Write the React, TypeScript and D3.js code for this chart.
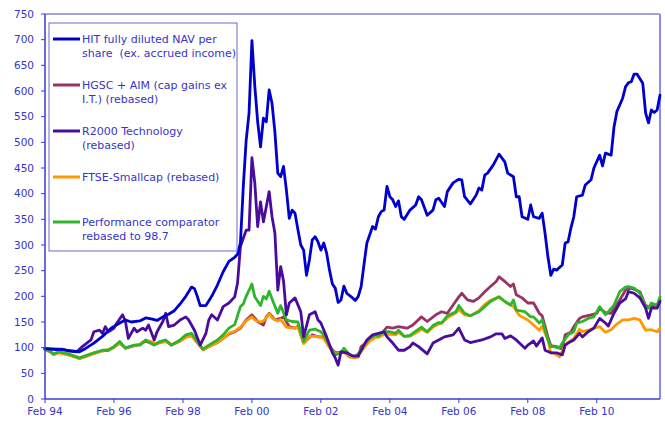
import React from "react";
import * as d3 from "d3";

// Months since Feb 1994 paired with values
const hitNav: [number, number][] = [
  [0,98],[2,97],[4,96],[6,97],[8,94],[10,93],[12,92],[14,98],[17,109],[20,122],[23,138],[26,148],[28,154],[30,150],[33,152],[35,158],[37,156],[39,153],[41,160],[43,165],[45,172],[47,185],[49,200],[51,218],[52,215],[53,200],[54,182],[56,182],[58,200],[60,222],[62,248],[64,268],[66,276],[67,282],[68,304],[69,414],[70,504],[71,557],[72,698],[73,610],[74,540],[75,491],[76,547],[77,540],[78,602],[79,576],[80,520],[81,440],[82,433],[83,453],[84,407],[85,352],[86,368],[87,362],[88,330],[89,300],[90,290],[91,241],[92,271],[93,310],[94,316],[95,306],[96,290],[97,304],[98,284],[99,251],[100,224],[101,216],[102,188],[103,193],[104,220],[105,206],[107,197],[108,192],[109,200],[110,219],[111,262],[112,304],[113,320],[114,336],[115,331],[116,355],[117,365],[118,368],[119,414],[120,394],[121,388],[122,375],[123,386],[124,355],[125,350],[127,368],[129,378],[130,394],[131,388],[133,358],[135,368],[136,388],[137,391],[139,375],[140,404],[142,421],[144,428],[145,427],[146,394],[148,380],[150,397],[151,411],[152,407],[153,436],[154,440],[156,456],[158,477],[160,462],[161,440],[163,433],[164,394],[165,394],[166,355],[168,350],[169,378],[170,355],[172,352],[173,362],[174,323],[175,277],[176,241],[177,253],[178,251],[180,261],[181,304],[182,306],[183,333],[184,355],[185,394],[187,397],[188,417],[190,427],[191,450],[193,475],[194,454],[195,479],[197,475],[198,530],[199,560],[201,586],[202,608],[203,616],[204,618],[205,633],[206,633],[208,615],[209,557],[210,538],[211,563],[212,558],[213,563],[214,592]
];

const hgscAim: [number, number][] = [
  [0,97],[2,91],[3,87],[5,91],[8,87],[10,83],[12,79],[15,85],[17,89],[20,94],[22,95],[24,101],[26,110],[28,99],[31,104],[33,106],[35,113],[38,106],[40,110],[42,113],[44,105],[47,113],[49,121],[51,124],[53,110],[55,96],[57,102],[60,110],[62,118],[64,127],[66,131],[68,138],[70,154],[72,164],[74,151],[76,144],[77,160],[78,167],[80,154],[82,157],[83,160],[85,141],[87,138],[88,142],[90,109],[93,125],[95,121],[97,121],[99,102],[101,90],[104,92],[106,82],[109,82],[110,102],[113,115],[115,125],[117,127],[119,140],[121,138],[123,141],[126,138],[128,144],[131,160],[133,151],[136,164],[138,170],[140,167],[142,183],[144,199],[145,206],[147,193],[149,190],[151,197],[153,209],[155,219],[157,229],[158,238],[160,229],[162,219],[163,224],[164,203],[166,197],[168,187],[170,187],[172,167],[173,162],[175,121],[176,104],[178,102],[180,97],[181,125],[183,130],[184,141],[186,157],[187,160],[190,164],[192,167],[193,177],[195,168],[197,167],[200,193],[202,212],[204,216],[207,209],[209,182],[210,180],[213,183],[214,193]
];

const r2000Tech: [number, number][] = [
  [0,98],[5,97],[11,92],[13,102],[16,115],[17,131],[19,134],[20,128],[21,141],[22,131],[23,134],[24,138],[25,148],[27,164],[28,151],[29,118],[31,138],[32,131],[34,138],[35,134],[36,144],[38,115],[39,131],[41,151],[42,167],[43,141],[45,144],[47,154],[49,160],[50,154],[52,134],[54,105],[56,128],[57,154],[58,164],[60,154],[62,180],[64,187],[66,199],[67,226],[68,297],[70,329],[71,329],[72,470],[73,421],[74,336],[75,384],[76,345],[78,404],[79,355],[80,323],[81,212],[82,258],[83,230],[84,164],[85,187],[87,197],[89,170],[90,121],[92,164],[94,170],[95,154],[96,148],[98,121],[100,90],[101,80],[102,66],[103,92],[105,90],[107,84],[109,84],[111,105],[112,115],[114,125],[116,128],[118,131],[119,121],[121,109],[123,95],[125,95],[127,102],[128,109],[130,102],[133,88],[135,109],[137,115],[139,121],[142,125],[144,138],[146,115],[148,110],[152,115],[155,121],[157,127],[159,127],[160,118],[162,123],[164,115],[167,99],[168,105],[170,113],[171,103],[173,119],[174,95],[176,90],[178,90],[180,86],[181,105],[182,109],[184,115],[186,128],[187,121],[189,131],[191,138],[193,157],[195,148],[196,142],[198,167],[200,187],[202,195],[203,209],[205,206],[207,197],[209,177],[210,157],[211,177],[213,177],[214,190]
];

const ftseSmallcap: [number, number][] = [
  [0,96],[2,91],[3,87],[5,90],[8,86],[10,83],[12,79],[15,84],[17,89],[20,94],[22,96],[24,101],[26,108],[28,100],[31,104],[33,107],[35,114],[37,112],[38,108],[40,110],[42,112],[44,106],[47,113],[49,120],[51,123],[53,110],[55,96],[57,102],[60,110],[62,118],[64,128],[66,132],[68,140],[70,152],[72,160],[73,154],[75,150],[76,152],[77,158],[78,166],[79,158],[81,152],[82,155],[84,140],[86,138],[88,140],[90,108],[92,122],[94,122],[96,120],[97,118],[99,100],[101,88],[103,90],[104,92],[106,82],[108,80],[110,92],[111,100],[113,113],[115,120],[116,120],[118,126],[120,126],[122,125],[123,130],[125,122],[127,122],[130,132],[131,136],[133,130],[135,140],[137,146],[138,148],[140,158],[143,168],[144,174],[146,164],[148,162],[151,172],[153,184],[155,192],[158,199],[160,190],[162,183],[163,180],[165,163],[166,160],[168,154],[170,144],[172,134],[173,142],[175,115],[176,90],[177,90],[179,82],[181,105],[182,110],[184,118],[186,136],[187,131],[189,134],[191,138],[193,141],[195,130],[197,135],[199,146],[201,154],[203,154],[205,157],[207,154],[209,134],[211,135],[213,131],[214,138]
];

const perfComparator: [number, number][] = [
  [0,97],[2,92],[3,88],[5,92],[8,88],[10,84],[12,80],[15,86],[17,90],[20,95],[22,95],[24,102],[26,112],[28,99],[31,105],[33,105],[35,115],[38,105],[40,112],[42,115],[44,105],[47,115],[49,125],[51,128],[53,112],[55,97],[57,105],[60,115],[62,125],[64,138],[66,145],[68,180],[69,185],[70,200],[72,224],[73,199],[75,182],[76,200],[77,195],[78,210],[79,195],[81,167],[82,182],[84,154],[86,151],[88,150],[90,112],[92,134],[94,136],[96,131],[97,125],[99,105],[101,86],[103,90],[104,99],[106,86],[108,82],[110,95],[111,105],[113,118],[115,125],[116,123],[118,131],[120,131],[122,128],[123,134],[125,122],[127,124],[130,136],[131,140],[133,131],[135,143],[137,149],[138,148],[140,162],[143,170],[144,182],[146,167],[148,162],[151,170],[153,180],[155,190],[158,199],[160,190],[162,183],[163,193],[164,173],[167,170],[169,160],[170,160],[172,148],[173,154],[175,115],[176,102],[177,102],[179,99],[180,109],[182,125],[184,131],[185,148],[187,151],[189,157],[191,160],[193,180],[195,164],[196,170],[198,183],[200,209],[202,218],[203,219],[205,216],[207,206],[209,180],[210,177],[211,187],[213,183],[214,199]
];

const yTicks = [0, 50, 100, 150, 200, 250, 300, 350, 400, 450, 500, 550, 600, 650, 700, 750];
const xTickMonths = [0, 24, 48, 72, 96, 120, 144, 168, 192];
const xTickLabels = ["Feb 94", "Feb 96", "Feb 98", "Feb 00", "Feb 02", "Feb 04", "Feb 06", "Feb 08", "Feb 10"];

const seriesNames = [
  ["HIT fully diluted NAV per", "share  (ex. accrued income)"],
  ["HGSC + AIM (cap gains ex", "I.T.) (rebased)"],
  ["R2000 Technology", "(rebased)"],
  ["FTSE-Smallcap (rebased)"],
  ["Performance comparator", "rebased to 98.7"],
];
const seriesColors = ["#0000cc", "#993366", "#4a0c9c", "#ff9900", "#2fb52a"];

export default function App() {
  const W = 665, H = 425;
  const left = 45, right = 660, top = 14, bottom = 399;
  const x = d3.scaleLinear().domain([0, 214]).range([left, right]);
  const y = d3.scaleLinear().domain([0, 750]).range([bottom, top]);
  const line = d3.line<[number, number]>().x(d => x(d[0])).y(d => y(d[1]));
  const data = [hitNav, hgscAim, r2000Tech, ftseSmallcap, perfComparator];
  const drawOrder = [1, 3, 4, 2, 0];
  const textColor = "#3535c8";
  const font = "'DejaVu Sans', Verdana, sans-serif";
  const legendY = [39, 85, 131, 177, 222];

  return (
    <svg width={W} height={H} style={{ position: "fixed", left: 0, top: 0, background: "#fff" }} fontFamily={font}>
      <rect x={0} y={0} width={W} height={H} fill="#fff" />
      {/* plot border */}
      <line x1={left} y1={top} x2={right} y2={top} stroke="#4a4ac8" strokeWidth={1} />
      <line x1={right} y1={top} x2={right} y2={bottom} stroke="#8a8aea" strokeWidth={2} />
      {/* series */}
      {drawOrder.map(i => (
        <path key={i} d={line(data[i]) || ""} fill="none" stroke={seriesColors[i]} strokeWidth={2.8} strokeLinejoin="round" strokeLinecap="round" />
      ))}
      {/* axes */}
      <line x1={left} y1={top} x2={left} y2={bottom} stroke="#3a3acc" strokeWidth={1.5} />
      <line x1={left} y1={bottom} x2={right} y2={bottom} stroke="#3a3acc" strokeWidth={1.5} />
      {yTicks.map(t => (
        <g key={t}>
          <line x1={left - 4} x2={left} y1={y(t)} y2={y(t)} stroke="#3a3acc" strokeWidth={1} />
          <text x={34} y={y(t)} dy="0.36em" textAnchor="end" fontSize={10.5} fill={textColor}>{t}</text>
        </g>
      ))}
      {xTickMonths.map((m, i) => (
        <g key={m}>
          <line x1={x(m)} x2={x(m)} y1={bottom} y2={bottom + 4} stroke="#3a3acc" strokeWidth={1} />
          <text x={x(m)} y={414.5} textAnchor="middle" fontSize={10.5} fill={textColor}>{xTickLabels[i]}</text>
        </g>
      ))}
      {/* legend */}
      <rect x={49} y={23} width={188} height={228} fill="#fff" stroke="#6a6ad4" strokeWidth={1} />
      {seriesNames.map((lines, i) => (
        <g key={i}>
          <line x1={53} x2={80} y1={legendY[i]} y2={legendY[i]} stroke={seriesColors[i]} strokeWidth={3} />
          {lines.map((s, j) => (
            <text key={j} x={82} y={legendY[i] + 4 + j * 14} fontSize={11} fill={textColor} style={{ whiteSpace: "pre" }}>{s}</text>
          ))}
        </g>
      ))}
    </svg>
  );
}
